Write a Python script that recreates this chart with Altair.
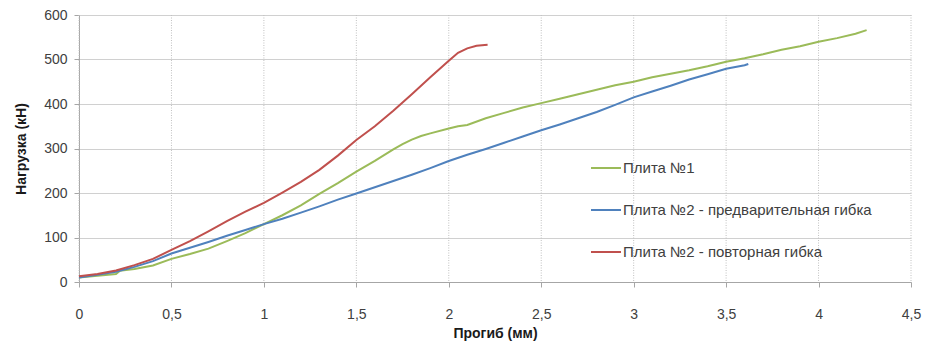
import altair as alt
import pandas as pd

series_names = ["Плита №1", "Плита №2 - предварительная гибка", "Плита №2 - повторная гибка"]
colors = ["#9BBB59", "#4F81BD", "#C0504D"]

green_x = [0, 0.1, 0.2, 0.22, 0.3, 0.4, 0.5, 0.6, 0.7, 0.8, 0.9, 1.0, 1.1, 1.2, 1.3, 1.4, 1.5, 1.6, 1.7, 1.75, 1.8, 1.85, 1.9, 2.0, 2.05, 2.1, 2.2, 2.3, 2.4, 2.5, 2.6, 2.7, 2.8, 2.9, 3.0, 3.1, 3.2, 3.3, 3.4, 3.5, 3.6, 3.7, 3.8, 3.9, 4.0, 4.1, 4.2, 4.26]
green_y = [10, 14, 18, 25, 29, 37, 52, 63, 75, 92, 110, 130, 150, 172, 198, 222, 248, 272, 298, 310, 320, 328, 334, 345, 350, 353, 368, 380, 392, 402, 412, 422, 432, 442, 450, 460, 468, 476, 485, 495, 503, 512, 522, 530, 540, 548, 558, 566]

blue_x = [0, 0.1, 0.2, 0.3, 0.4, 0.5, 0.6, 0.7, 0.8, 0.9, 1.0, 1.1, 1.2, 1.3, 1.4, 1.5, 1.6, 1.7, 1.8, 1.9, 2.0, 2.1, 2.2, 2.3, 2.4, 2.5, 2.6, 2.7, 2.8, 2.9, 3.0, 3.1, 3.2, 3.3, 3.4, 3.5, 3.6, 3.62]
blue_y = [10, 16, 23, 34, 47, 64, 77, 90, 104, 117, 130, 142, 156, 170, 185, 199, 213, 227, 241, 256, 272, 286, 299, 313, 327, 341, 354, 368, 382, 398, 415, 428, 441, 455, 467, 479, 487, 490]

red_x = [0, 0.1, 0.2, 0.3, 0.4, 0.5, 0.6, 0.7, 0.8, 0.9, 1.0, 1.1, 1.2, 1.3, 1.4, 1.5, 1.6, 1.7, 1.8, 1.9, 2.0, 2.05, 2.1, 2.15, 2.21]
red_y = [13, 18, 26, 38, 52, 72, 92, 114, 137, 158, 178, 201, 225, 252, 284, 319, 350, 385, 422, 460, 497, 515, 525, 531, 533]

x_ticks = [0, 0.5, 1, 1.5, 2, 2.5, 3, 3.5, 4, 4.5]
y_ticks = [0, 100, 200, 300, 400, 500, 600]

rows = []
for name, xs, ys in [(series_names[0], green_x, green_y),
                     (series_names[1], blue_x, blue_y),
                     (series_names[2], red_x, red_y)]:
    for i, (a, b) in enumerate(zip(xs, ys)):
        rows.append({"series": name, "x": a, "y": b, "order": i})
df = pd.DataFrame(rows)

FONT = "Liberation Sans"

vgrid = alt.Chart(pd.DataFrame({"x": x_ticks})).mark_rule(
    color="#c0c0c0", strokeDash=[1, 1.5], strokeWidth=1
).encode(x=alt.X("x:Q", scale=alt.Scale(domain=[0, 4.5])))

lines = alt.Chart(df).mark_line(strokeWidth=2).encode(
    x=alt.X("x:Q", scale=alt.Scale(domain=[0, 4.5], nice=False),
            axis=alt.Axis(values=x_ticks, title="Прогиб (мм)", grid=False,
                          labelExpr="replace(format(datum.value, '~g'), '.', ',')",
                          labelFlush=False, labelOverlap=False,
                          tickSize=5, labelPadding=20, titlePadding=5)),
    y=alt.Y("y:Q", scale=alt.Scale(domain=[0, 600], nice=False),
            axis=alt.Axis(values=y_ticks, title="Нагрузка (кН)", grid=True,
                          gridColor="#d0d0d0", tickSize=5, labelPadding=7,
                          labelFlush=False, titlePadding=15)),
    color=alt.Color("series:N", scale=alt.Scale(domain=series_names, range=colors),
                    sort=series_names,
                    legend=alt.Legend(title=None, orient="none", legendX=511, legendY=137,
                                      symbolType="stroke", symbolSize=900,
                                      symbolStrokeWidth=2, rowPadding=18,
                                      labelFontSize=15, labelFont=FONT, labelLimit=0,
                                      labelColor="#404040", labelOffset=1)),
    order="order:Q",
)

chart = alt.layer(vgrid, lines).properties(
    width=832, height=267,
    autosize=alt.AutoSizeParams(type="none"),
    padding={"left": 71, "top": 7, "right": 12, "bottom": 59},
).configure_view(stroke=None).configure_axis(
    domainColor="#a6a6a6", tickColor="#a6a6a6", labelColor="#404040",
    labelFont=FONT, labelFontSize=14, titleFont=FONT, titleFontSize=14,
    titleFontWeight="bold", titleColor="#1a1a1a",
)

chart.save("out.html", embed_options={"renderer": "svg", "actions": False})
